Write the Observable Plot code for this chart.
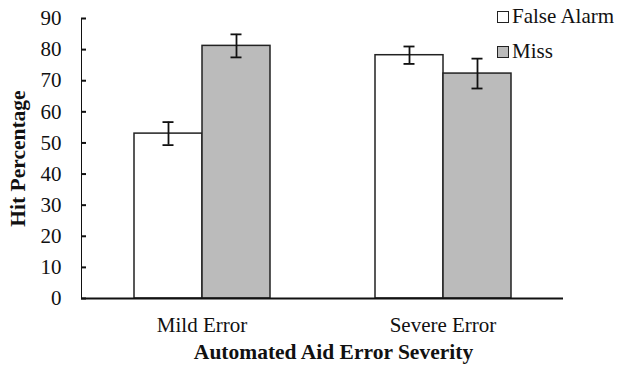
<!DOCTYPE html>
<html>
<head>
<meta charset="utf-8">
<script src="https://cdn.jsdelivr.net/npm/d3@7"></script>
<script src="https://cdn.jsdelivr.net/npm/@observablehq/plot@0.6"></script>
<style>
  body { margin: 0; background: white; }
  #wrap { position: relative; width: 618px; height: 369px; font-family: "Liberation Serif", "Times New Roman", serif; }
  #wrap svg text { font-size: 21px; font-family: "Liberation Serif", "Times New Roman", serif; fill: #111; }
  #legend { position: absolute; left: 497px; top: -1px; font-size: 21px; color: #111; line-height: 35px; }
  #legend .item { display: flex; align-items: center; }
  #legend .sw { width: 10px; height: 10px; border: 1.5px solid #222; margin-right: 3px; }
  #wrap g[aria-label="y-axis label"] text, #wrap g[aria-label="fx-axis label"] text { font-weight: bold; font-size: 21.5px; }
</style>
</head>
<body>
<div id="wrap"><div id="legend"></div></div>
<script>
const categories = ["Mild Error", "Severe Error"];
const series = ["False Alarm", "Miss"];
const falseAlarm = [53, 78.2];
const falseAlarmErr = [3.7, 2.8];
const miss = [81.2, 72.3];
const missErr = [3.7, 4.8];
const yTicks = [0, 10, 20, 30, 40, 50, 60, 70, 80, 90];
const colors = ["#ffffff", "#bbbbbb"];

const data = [];
categories.forEach((c, i) => {
  data.push({category: c, series: series[0], value: falseAlarm[i], err: falseAlarmErr[i]});
  data.push({category: c, series: series[1], value: miss[i], err: missErr[i]});
});

const chart = Plot.plot({
  width: 618,
  height: 369,
  marginLeft: 80,
  marginRight: 55,
  marginTop: 18,
  marginBottom: 71,
  style: {fontFamily: "Liberation Serif, Times New Roman, serif", fontSize: "21px", color: "#111", background: "white"},
  fx: {domain: categories, padding: 0, tickSize: 0, tickPadding: 19, label: "Automated Aid Error Severity", labelAnchor: "center", labelOffset: 60, labelArrow: "none", axis: "bottom"},
  x: {domain: series, paddingInner: 0, paddingOuter: 0.75, axis: null},
  y: {domain: [0, 90], ticks: yTicks, tickSize: -5, tickPadding: 25, label: "Hit Percentage", labelAnchor: "center", labelOffset: 72, labelArrow: "none", line: true},
  color: {domain: series, range: colors},
  marks: [
    Plot.barY(data, {fx: "category", x: "series", y: "value", fill: "series", stroke: "#222", strokeWidth: 1.5}),
    Plot.ruleX(data, {fx: "category", x: "series", y1: d => d.value - d.err, y2: d => d.value + d.err, stroke: "#111", strokeWidth: 1.8}),
    Plot.tickY(data, {fx: "category", x: "series", y: d => d.value + d.err, stroke: "#111", strokeWidth: 1.8, insetLeft: 28.5, insetRight: 28.5}),
    Plot.tickY(data, {fx: "category", x: "series", y: d => d.value - d.err, stroke: "#111", strokeWidth: 1.8, insetLeft: 28.5, insetRight: 28.5}),
    Plot.ruleY([0], {stroke: "#111", strokeWidth: 2})
  ]
});

document.getElementById("wrap").prepend(chart);
chart.querySelectorAll('g[aria-label="y-axis tick"], g[aria-label="y-axis line"]').forEach(e => { e.setAttribute("stroke-width", 2); e.setAttribute("stroke", "#111"); });
const fxLabel = chart.querySelector('g[aria-label="fx-axis label"]');
if (fxLabel) {
  const t = fxLabel.getAttribute("transform") || "";
  fxLabel.setAttribute("transform", (t + " translate(11,0)").trim());
}

const legend = document.getElementById("legend");
series.forEach((s, i) => {
  const item = document.createElement("div");
  item.className = "item";
  const sw = document.createElement("span");
  sw.className = "sw";
  sw.style.background = colors[i];
  item.appendChild(sw);
  item.appendChild(document.createTextNode(s));
  legend.appendChild(item);
});
</script>
</body>
</html>
